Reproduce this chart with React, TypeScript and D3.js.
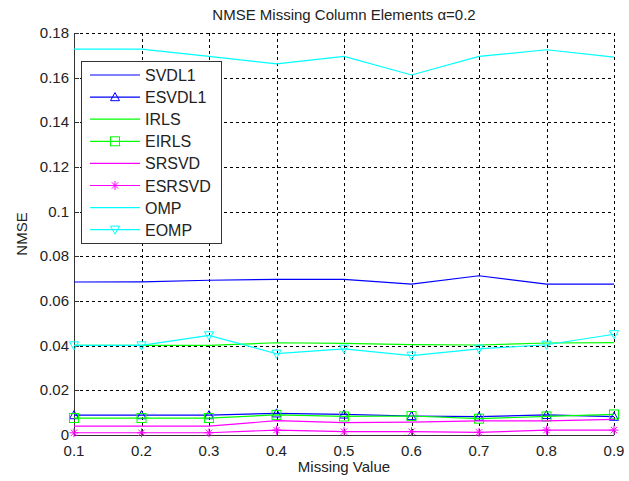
import React from "react";
import * as d3 from "d3";

const missing = [0.1, 0.2, 0.3, 0.4, 0.5, 0.6, 0.7, 0.8, 0.9];
const svdl1 = [0.0685, 0.0686, 0.0693, 0.0697, 0.0697, 0.0676, 0.0713, 0.0676, 0.0676];
const esvdl1 = [0.0089, 0.0089, 0.0089, 0.0097, 0.0092, 0.0085, 0.0082, 0.009, 0.0082];
const irls = [0.0401, 0.0401, 0.0401, 0.0413, 0.041, 0.0405, 0.0403, 0.0412, 0.0414];
const eirls = [0.0076, 0.0076, 0.0076, 0.009, 0.0083, 0.0085, 0.0073, 0.0083, 0.0092];
const srsvd = [0.004, 0.004, 0.004, 0.0064, 0.0055, 0.0058, 0.0063, 0.0063, 0.007];
const esrsvd = [0.001, 0.001, 0.001, 0.0022, 0.0015, 0.0015, 0.0012, 0.0022, 0.0022];
const omp = [0.1728, 0.1728, 0.1695, 0.1662, 0.1695, 0.1612, 0.1695, 0.1725, 0.1692];
const eomp = [0.0401, 0.0401, 0.0446, 0.0364, 0.0386, 0.0355, 0.0386, 0.0404, 0.0451];
const xTicks = [0.1, 0.2, 0.3, 0.4, 0.5, 0.6, 0.7, 0.8, 0.9];
const yTicks = [0, 0.02, 0.04, 0.06, 0.08, 0.1, 0.12, 0.14, 0.16, 0.18];

type Marker = "none" | "tri-up" | "square" | "star" | "tri-down";
const series: { name: string; values: number[]; color: string; marker: Marker }[] = [
  { name: "SVDL1", values: svdl1, color: "#0000ff", marker: "none" },
  { name: "ESVDL1", values: esvdl1, color: "#0000ff", marker: "tri-up" },
  { name: "IRLS", values: irls, color: "#00ff00", marker: "none" },
  { name: "EIRLS", values: eirls, color: "#00ff00", marker: "square" },
  { name: "SRSVD", values: srsvd, color: "#ff00ff", marker: "none" },
  { name: "ESRSVD", values: esrsvd, color: "#ff00ff", marker: "star" },
  { name: "OMP", values: omp, color: "#00ffff", marker: "none" },
  { name: "EOMP", values: eomp, color: "#00ffff", marker: "tri-down" },
];

const W = 629, H = 481;
const L = 74, R = 614, T = 33, B = 435;
const font = "'Liberation Sans', Arial, sans-serif";

function MarkerShape({ kind, x, y, color }: { kind: Marker; x: number; y: number; color: string }) {
  const s = 4.5;
  if (kind === "tri-up")
    return <polygon points={`${x},${y - s} ${x - s},${y + s * 0.8} ${x + s},${y + s * 0.8}`} fill="none" stroke={color} strokeWidth={1} />;
  if (kind === "tri-down")
    return <polygon points={`${x - s},${y - s * 0.8} ${x + s},${y - s * 0.8} ${x},${y + s}`} fill="none" stroke={color} strokeWidth={1} />;
  if (kind === "square")
    return <rect x={x - s} y={y - s} width={2 * s} height={2 * s} fill="none" stroke={color} strokeWidth={1} />;
  if (kind === "star")
    return (
      <g stroke={color} strokeWidth={1}>
        <line x1={x - s} y1={y} x2={x + s} y2={y} />
        <line x1={x} y1={y - s} x2={x} y2={y + s} />
        <line x1={x - s * 0.7} y1={y - s * 0.7} x2={x + s * 0.7} y2={y + s * 0.7} />
        <line x1={x - s * 0.7} y1={y + s * 0.7} x2={x + s * 0.7} y2={y - s * 0.7} />
      </g>
    );
  return null;
}

export default function App() {
  const x = d3.scaleLinear().domain([0.1, 0.9]).range([L, R]);
  const y = d3.scaleLinear().domain([0, 0.18]).range([B, T]);
  const line = d3.line<number>().x((_, i) => x(missing[i])).y((d) => y(d));

  const legX = 81, legY = 61, legW = 140, legH = 182, rowH = 22.1;

  return (
    <svg width={W} height={H} style={{ display: "block", position: "absolute", left: 0, top: 0, background: "#fff" }}>
      <rect x={0} y={0} width={W} height={H} fill="#fff" />
      {/* grid */}
      <g stroke="#000" strokeWidth={1} strokeDasharray="3,3" shapeRendering="crispEdges">
        {xTicks.map((t) => (
          <line key={"gx" + t} x1={Math.round(x(t)) + 0.5} x2={Math.round(x(t)) + 0.5} y1={T} y2={B} />
        ))}
        {yTicks.map((t) => (
          <line key={"gy" + t} x1={L} x2={R} y1={Math.round(y(t)) + 0.5} y2={Math.round(y(t)) + 0.5} />
        ))}
      </g>
      {/* axes */}
      <g stroke="#333" strokeWidth={1} shapeRendering="crispEdges">
        <line x1={L + 0.5} x2={L + 0.5} y1={T} y2={B} />
        <line x1={L} x2={R} y1={B + 0.5} y2={B + 0.5} />
        {yTicks.map((t) => (
          <line key={"ty" + t} x1={L} x2={L + 5} y1={Math.round(y(t)) + 0.5} y2={Math.round(y(t)) + 0.5} />
        ))}
        {xTicks.map((t) => (
          <line key={"tx" + t} x1={Math.round(x(t)) + 0.5} x2={Math.round(x(t)) + 0.5} y1={B} y2={B - 5} />
        ))}
      </g>
      {/* series */}
      {series.map((s) => (
        <g key={s.name}>
          <path d={line(s.values) || ""} fill="none" stroke={s.color} strokeWidth={1.2} />
          {s.marker !== "none" &&
            s.values.map((v, i) => <MarkerShape key={i} kind={s.marker} x={x(missing[i])} y={y(v)} color={s.color} />)}
        </g>
      ))}
      {/* tick labels */}
      <g fontFamily={font} fontSize={15} fill="#222">
        {yTicks.map((t) => (
          <text key={"ly" + t} x={L - 5} y={y(t) + 5} textAnchor="end">
            {d3.format("~g")(t)}
          </text>
        ))}
        {xTicks.map((t) => (
          <text key={"lx" + t} x={x(t)} y={B + 21} textAnchor="middle">
            {d3.format("~g")(t)}
          </text>
        ))}
      </g>
      {/* labels */}
      <text x={(L + R) / 2} y={20} textAnchor="middle" fontFamily={font} fontSize={15} fill="#222">
        NMSE Missing Column Elements α=0.2
      </text>
      <text x={(L + R) / 2} y={472} textAnchor="middle" fontFamily={font} fontSize={15} fill="#222">
        Missing Value
      </text>
      <text transform={`translate(27,${(T + B) / 2}) rotate(-90)`} textAnchor="middle" fontFamily={font} fontSize={15} fill="#222">
        NMSE
      </text>
      {/* legend */}
      <g>
        <rect x={legX + 0.5} y={legY + 0.5} width={legW} height={legH} fill="#fff" stroke="#333" strokeWidth={1} />
        {series.map((s, i) => {
          const cy = legY + 14 + i * rowH;
          return (
            <g key={"leg" + s.name}>
              <line x1={90} x2={140} y1={cy} y2={cy} stroke={s.color} strokeWidth={1.2} />
              <MarkerShape kind={s.marker} x={115} y={cy} color={s.color} />
              <text x={145} y={cy + 6} fontFamily={font} fontSize={16} fill="#222">
                {s.name}
              </text>
            </g>
          );
        })}
      </g>
    </svg>
  );
}
